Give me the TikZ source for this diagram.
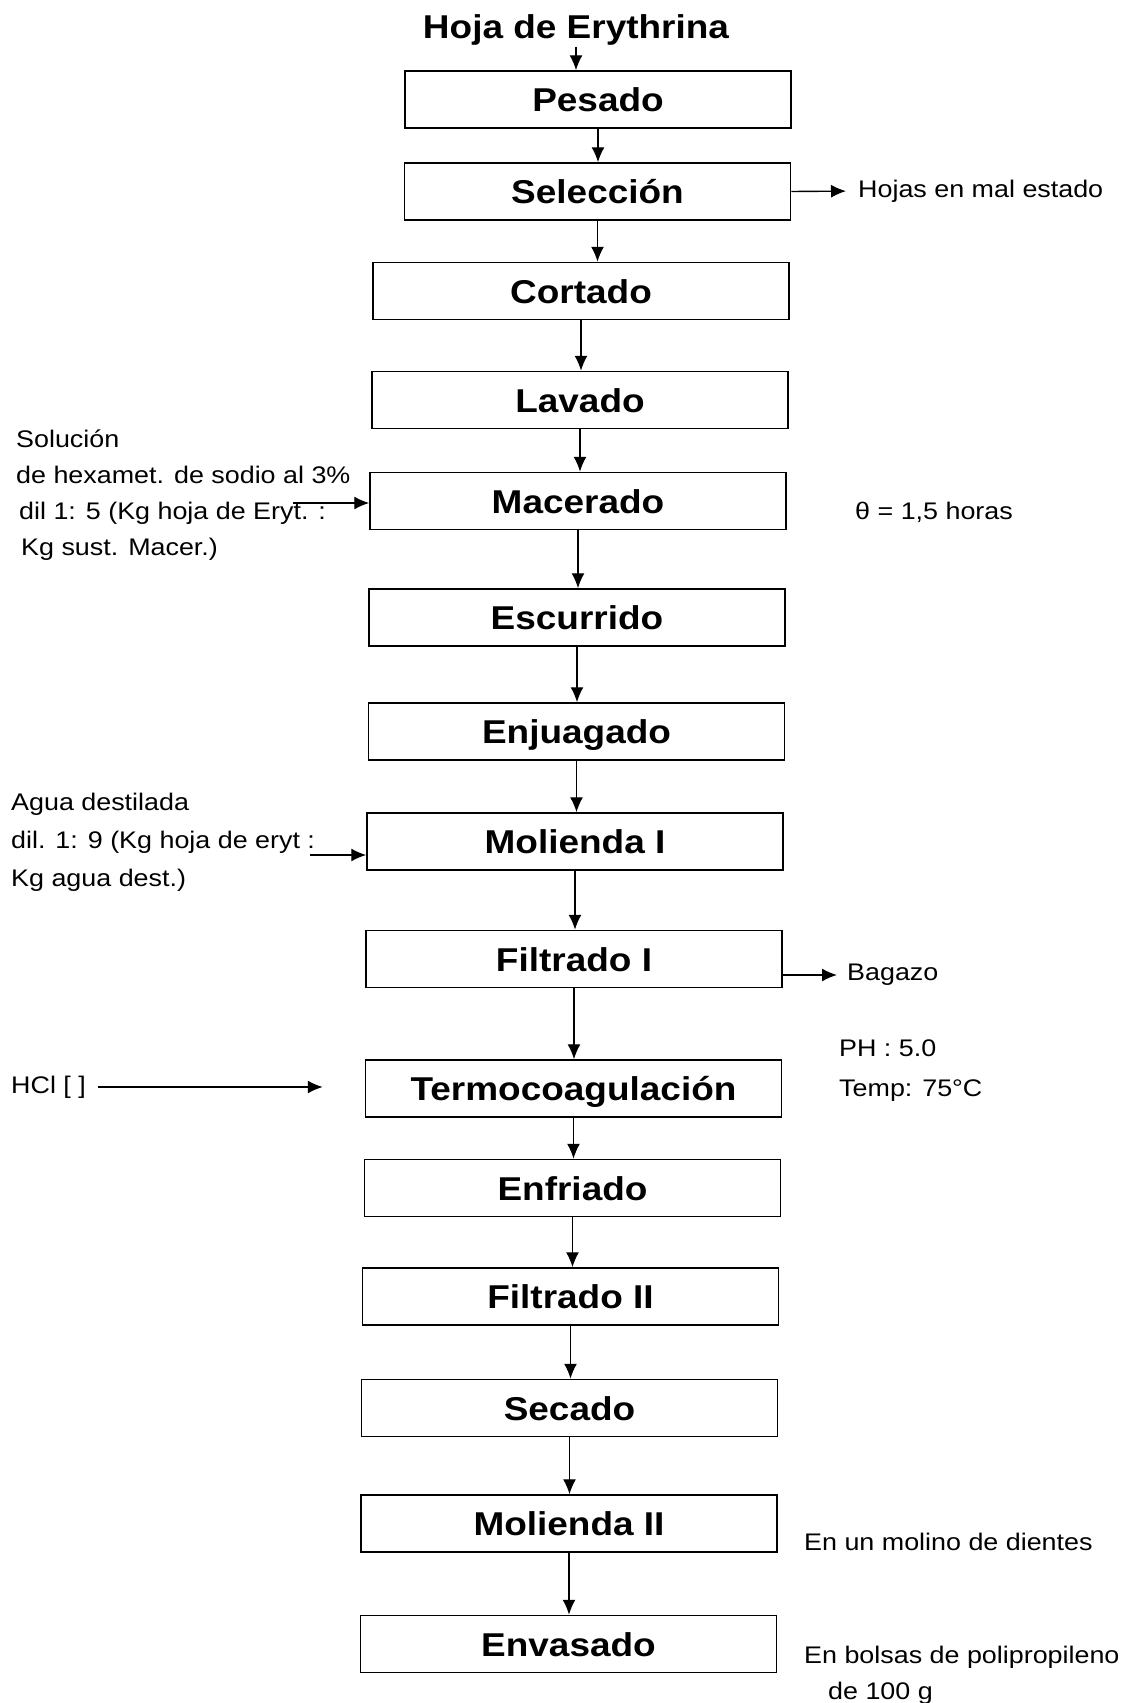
\documentclass[tikz,border=0pt]{standalone}
\usepackage{fontspec}
\setmainfont{Liberation Sans}[FakeStretch=1.12]
\usetikzlibrary{arrows.meta, calc}

\tikzset{
  stage/.style={draw, line width=1.5pt, minimum width=416pt, minimum height=57pt,
    inner sep=0pt, text height=24pt, text depth=0pt,
    font=\bfseries\fontsize{33}{40}\selectfont},
  note/.style={inner sep=0pt, align=left, font=\fontsize{24}{36}\selectfont},
  flow/.style={-{Latex[length=15pt,width=13pt]}, line width=1.4pt}
}

\begin{document}
\begin{tikzpicture}[x=1pt, y=-1pt]
  \useasboundingbox (0,0) rectangle (1135,1703);

  % main line
  \node[font=\bfseries\fontsize{33}{40}\selectfont, inner sep=1pt] (hoja) at (576,30) {Hoja de Erythrina};
  \node[stage, minimum width=386pt] (pesado) at (598,99.5) {Pesado};
  \node[stage, minimum width=386pt] (sel) at (597.5,191.5) {Selección};
  \node[stage] (cort) at (581,291) {Cortado};
  \node[stage] (lav) at (580,400) {Lavado};
  \node[stage] (mac) at (578,501) {Macerado};
  \node[stage] (esc) at (577,617.5) {Escurrido};
  \node[stage] (enj) at (576.5,731.5) {Enjuagado};
  \node[stage] (mol1) at (575,841.5) {Molienda I};
  \node[stage] (fil1) at (574,959) {Filtrado I};
  \node[stage] (termo) at (573.5,1088.5) {Termocoagulación};
  \node[stage] (enf) at (572.5,1188) {Enfriado};
  \node[stage] (fil2) at (570.5,1296.5) {Filtrado II};
  \node[stage] (sec) at (569.5,1408) {Secado};
  \node[stage] (mol2) at (569,1523.5) {Molienda II};
  \node[stage] (env) at (568.5,1644) {Envasado};

  \foreach \a/\b in {hoja/pesado, pesado/sel, sel/cort, cort/lav, lav/mac, mac/esc,
    esc/enj, enj/mol1, mol1/fil1, fil1/termo, termo/enf, enf/fil2, fil2/sec,
    sec/mol2, mol2/env}
    \draw[flow] (\a.south) -- (\a.south |- \b.north);

  % right side
  \node[note, anchor=west] (mal) at (858,191) {Hojas en mal estado};
  \draw[flow, shorten >=12pt] (sel.east) -- (mal.west);
  \node[note, anchor=west] (theta) at (855,512) {θ = 1,5 horas};
  \node[note, anchor=west] (bagazo) at (847,975) {Bagazo};
  \draw[flow, shorten >=10pt] (bagazo.west -| fil1.east) -- (bagazo.west);
  \node[note, anchor=north west, font=\fontsize{24}{40}\selectfont] (cond) at (839,1040) {PH : 5.0\\Temp: 75°C};
  \node[note, anchor=west] (molino) at (804,1542) {En un molino de dientes};
  \node[note, anchor=north west] (bolsas) at (804,1646) {En bolsas de polipropileno\\\hspace*{24pt}de 100 g};

  % left side
  \node[note, anchor=north west] (sol) at (16,430)
    {Solución\\de hexamet. de sodio al 3\%\\\hspace*{3pt}dil 1: 5 (Kg hoja de Eryt. :\\\hspace*{5pt}Kg sust. Macer.)};
  \coordinate (solin) at (293,503);
  \draw[flow] (solin) -- (solin -| mac.west);
  \node[note, anchor=north west, font=\fontsize{24}{38}\selectfont] (agua) at (11,793)
    {Agua destilada\\dil. 1: 9 (Kg hoja de eryt :\\Kg agua dest.)};
  \coordinate (aguain) at (310,855);
  \draw[flow] (aguain) -- (aguain -| mol1.west);
  \node[note, anchor=west] (hcl) at (11,1087) {HCl [ ]};
  \draw[flow, shorten <=12pt, shorten >=42pt] (hcl.east) -- (hcl.east -| termo.west);
\end{tikzpicture}
\end{document}
